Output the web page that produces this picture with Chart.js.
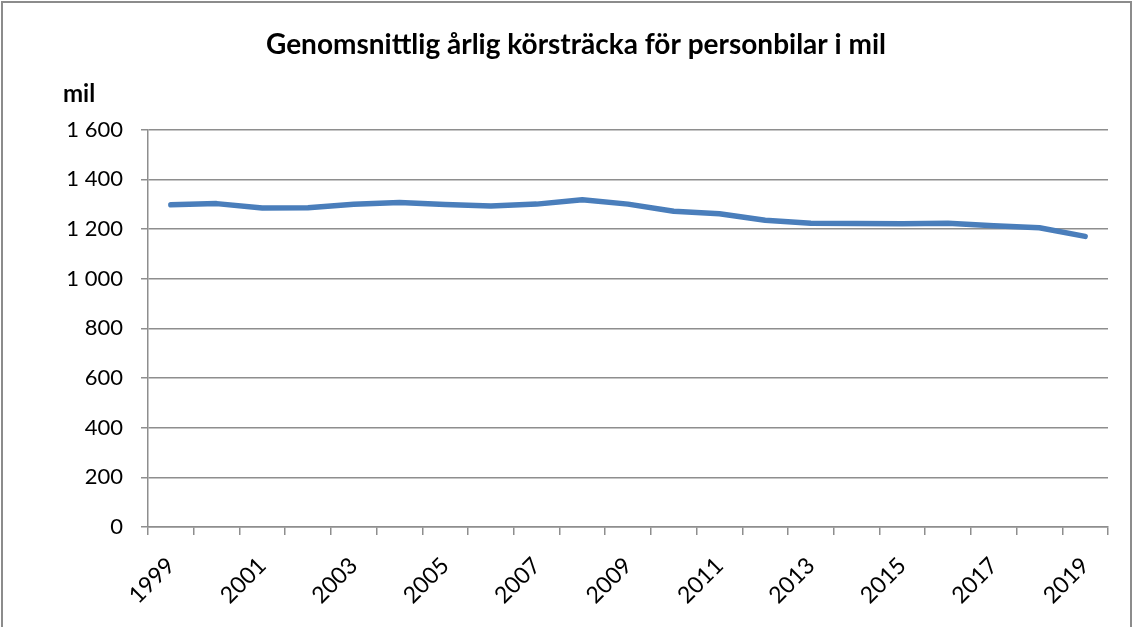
<!DOCTYPE html>
<html>
<head>
<meta charset="utf-8">
<script src="https://cdn.jsdelivr.net/npm/chart.js@4/dist/chart.umd.min.js"></script>
<style>
  html, body { margin: 0; padding: 0; background: #fff; }
  #wrap { width: 1134px; height: 627px; position: relative; }
</style>
</head>
<body>
<div id="wrap"><canvas id="c" width="1134" height="627"></canvas></div>
<script>
const years = ['1999','2000','2001','2002','2003','2004','2005','2006','2007','2008','2009',
               '2010','2011','2012','2013','2014','2015','2016','2017','2018','2019'];
const distanceMil = [1297, 1302, 1284, 1285, 1299, 1306, 1298, 1292, 1300, 1318, 1300,
                     1271, 1261, 1235, 1223, 1222, 1221, 1223, 1213, 1205, 1170];
const yMin = 0, yMax = 1600, yStep = 200;
const titleText = 'Genomsnittlig årlig körsträcka för personbilar i mil';
const unitText = 'mil';

const gridColor = '#8e8e8e';
const fontFamily = 'Lato, "Liberation Sans", sans-serif';

function fmt(v) {
  const s = String(Math.round(v));
  return s.replace(/\B(?=(\d{3})+(?!\d))/g, ' ');
}

const frameAndUnit = {
  id: 'frameAndUnit',
  afterDraw(chart) {
    const ctx = chart.ctx;
    ctx.save();
    ctx.strokeStyle = '#8c8c8c';
    ctx.lineWidth = 2;
    ctx.beginPath();
    ctx.moveTo(2, 627);
    ctx.lineTo(2, 2);
    ctx.lineTo(1131, 2);
    ctx.lineTo(1131, 627);
    ctx.stroke();
    // unit label above the y axis
    ctx.fillStyle = '#000';
    ctx.font = 'bold 24px ' + fontFamily;
    ctx.textAlign = 'left';
    ctx.textBaseline = 'middle';
    ctx.fillText(unitText, 63, chart.chartArea.top - 35);
    ctx.restore();
  }
};

new Chart(document.getElementById('c'), {
  type: 'line',
  data: {
    labels: years,
    datasets: [{
      data: distanceMil,
      borderColor: '#4a7ebb',
      backgroundColor: '#4a7ebb',
      borderWidth: 5.5,
      pointRadius: 0,
      tension: 0,
      borderCapStyle: 'round',
      borderJoinStyle: 'round',
      fill: false
    }]
  },
  options: {
    responsive: false,
    animation: false,
    devicePixelRatio: 1,
    layout: { padding: { left: 44, right: 26, top: 0, bottom: 0 } },
    plugins: {
      legend: { display: false },
      tooltip: { enabled: false },
      title: {
        display: true,
        text: titleText,
        color: '#000',
        font: { family: fontFamily, size: 28, weight: 'bold' },
        padding: { top: 28, bottom: 68 }
      }
    },
    scales: {
      x: {
        type: 'category',
        offset: true,
        grid: {
          offset: true,
          drawOnChartArea: false,
          drawTicks: true,
          tickLength: 8,
          color: gridColor,
          lineWidth: 1.5
        },
        border: { display: true, color: gridColor, width: 1.5 },
        ticks: {
          autoSkip: false,
          maxRotation: 45,
          minRotation: 45,
          color: '#000',
          padding: 17,
          font: { family: fontFamily, size: 23 },
          callback: function(val, idx) { return idx % 2 === 0 ? this.getLabelForValue(val) : ''; }
        },
        afterFit: s => { s.height = 100; }
      },
      y: {
        min: yMin,
        max: yMax,
        grid: {
          color: gridColor,
          lineWidth: 1.5,
          drawTicks: true,
          tickLength: 7
        },
        border: { display: true, color: gridColor, width: 1.5 },
        ticks: {
          stepSize: yStep,
          color: '#000',
          padding: 18,
          font: { family: fontFamily, size: 22 },
          callback: v => fmt(v)
        },
        afterFit: s => { s.width = 148 - 44; }
      }
    }
  },
  plugins: [frameAndUnit]
});
</script>
</body>
</html>
